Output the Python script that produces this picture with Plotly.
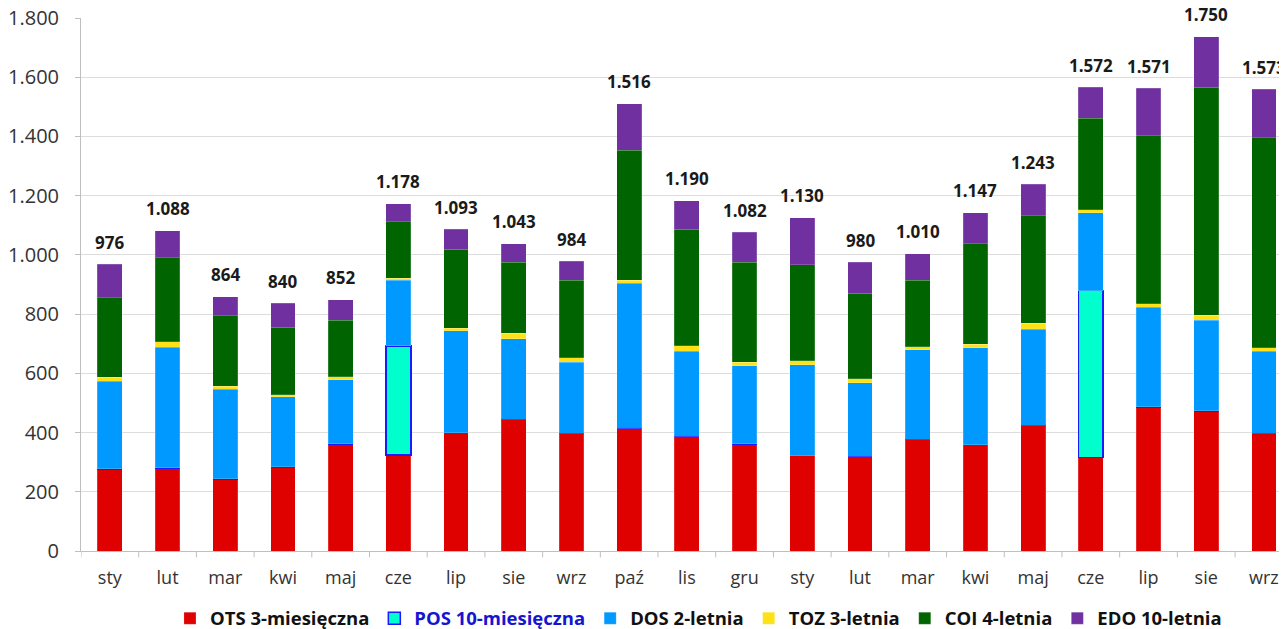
import plotly.graph_objects as go

months = ["sty", "lut", "mar", "kwi", "maj", "cze", "lip", "sie", "wrz", "paź", "lis", "gru",
          "sty", "lut", "mar", "kwi", "maj", "cze", "lip", "sie", "wrz"]
cat_ids = list(range(len(months)))

ots = [277, 281, 244, 284, 362, 324, 400, 445, 397, 415, 388, 362, 322, 320, 378, 359, 424, 315, 487, 473, 397]
pos = [0, 0, 0, 0, 0, 369, 0, 0, 0, 0, 0, 0, 0, 0, 0, 0, 0, 564, 0, 0, 0]
dos = [297, 407, 302, 237, 216, 222, 344, 272, 240, 490, 287, 264, 307, 248, 302, 327, 325, 264, 336, 306, 277]
toz = [12, 19, 10, 7, 11, 6, 9, 18, 16, 10, 18, 11, 13, 14, 10, 12, 20, 10, 12, 17, 12]
coi = [269, 283, 238, 228, 191, 191, 266, 240, 262, 439, 393, 339, 325, 289, 225, 339, 363, 308, 568, 770, 710]
edo = [114, 91, 65, 80, 68, 60, 68, 63, 64, 157, 97, 100, 158, 104, 89, 106, 106, 105, 160, 171, 164]
totals = [976, 1088, 864, 840, 852, 1178, 1093, 1043, 984, 1516, 1190, 1082, 1130, 980, 1010, 1147, 1243, 1572, 1571, 1750, 1573]

series = [
    ("OTS 3-miesięczna", ots, "#DF0000", None),
    ("<span style='color:#1515D0'>POS 10-miesięczna</span>", pos, "#00FFCC", "#1A1AFF"),
    ("DOS 2-letnia", dos, "#0099FF", None),
    ("TOZ 3-letnia", toz, "#FFE11A", None),
    ("COI 4-letnia", coi, "#006400", None),
    ("EDO 10-letnia", edo, "#7030A0", None),
]

FONT = "Open Sans"
fig = go.Figure()
for name, vals, color, border in series:
    fig.add_trace(go.Bar(
        name=name, x=cat_ids, y=vals, width=0.43,
        marker=dict(color=color,
                    line=dict(color=border if border else "rgba(255,255,255,0.35)",
                              width=1.5 if border else 0.5)),
    ))

# total labels placed above the top of each stacked bar
stack_tops = [a + b + c + d + e + f for a, b, c, d, e, f in zip(ots, pos, dos, toz, coi, edo)]
for i, top, t in zip(cat_ids, stack_tops, totals):
    fig.add_annotation(x=i, y=top, text=f"{t:,}".replace(",", "."), showarrow=False,
                       yanchor="middle", yshift=22,
                       font=dict(family=FONT, size=17, color="#1a1a1a", weight="bold"))

# page body has an 8px margin, so the figure is offset by 8px
fig.update_layout(
    width=1279, height=621,
    barmode="stack",
    separators=",.",
    plot_bgcolor="white", paper_bgcolor="white",
    margin=dict(l=73, r=0, t=10, b=78, autoexpand=False),
    font=dict(family=FONT, color="#222222"),
    showlegend=True,
    legend=dict(orientation="h", x=0.512, xanchor="center", y=-0.127, yanchor="middle",
                font=dict(family=FONT, size=18.5, color="#111111", weight="bold"),
                itemwidth=30, traceorder="normal"),
    xaxis=dict(type="linear", tickmode="array", tickvals=cat_ids, ticktext=months,
               range=[-0.5, 20.4], showgrid=False, showline=True, linecolor="#BFBFBF",
               ticks="", ticklabelstandoff=10,
               tickfont=dict(family=FONT, size=18, color="#333333"), zeroline=False),
    yaxis=dict(range=[0, 1800], dtick=200, tickformat=",d", showgrid=True, gridcolor="#DDDDDD",
               showline=True, linecolor="#BFBFBF", ticks="outside", ticklen=5, tickcolor="#BFBFBF",
               ticklabeloverflow="allow", ticklabelstandoff=12,
               tickfont=dict(family=FONT, size=20, color="#333333"), zeroline=False),
)

# category boundary tick marks on the x axis
for b in range(len(months) + 1):
    fig.add_shape(type="line", xref="x", yref="paper", x0=b - 0.5, x1=b - 0.5, y0=0, y1=-0.012,
                  line=dict(color="#BFBFBF", width=1))

fig.write_html("out.html")
